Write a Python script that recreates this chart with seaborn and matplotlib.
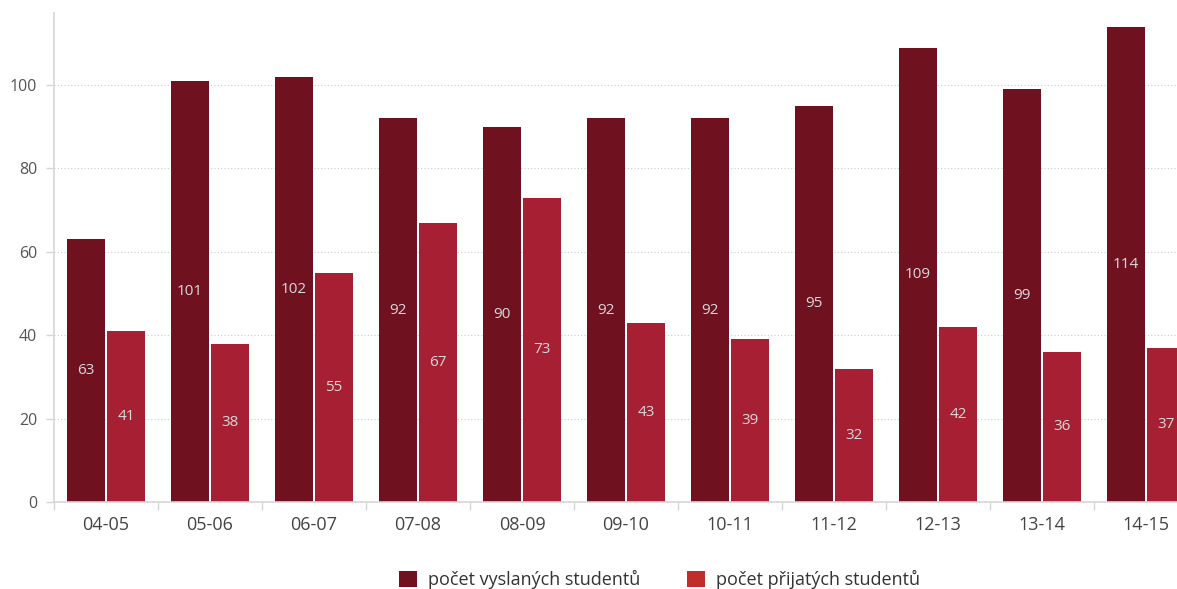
import matplotlib
matplotlib.use("Agg")
import matplotlib.pyplot as plt
import seaborn as sns
import pandas as pd
from matplotlib.patches import Patch

years = ["04-05", "05-06", "06-07", "07-08", "08-09", "09-10", "10-11", "11-12", "12-13", "13-14", "14-15"]
sent = [63, 101, 102, 92, 90, 92, 92, 95, 109, 99, 114]
received = [41, 38, 55, 67, 73, 43, 39, 32, 42, 36, 37]
series_names = ["počet vyslaných studentů", "počet přijatých studentů"]

df = pd.DataFrame({
    "year": years * 2,
    "value": sent + received,
    "series": [series_names[0]] * len(years) + [series_names[1]] * len(years),
})

sns.set_theme(style="white")
plt.rcParams["font.family"] = ["Open Sans", "DejaVu Sans"]

bar_colors = ["#701120", "#A61F33"]
legend_colors = ["#701120", "#C12D2B"]

fig = plt.figure(figsize=(11.77, 5.89), dpi=100)
ax = fig.add_axes([54 / 1177, 87 / 589, 1144 / 1177, 489 / 589])

sns.barplot(data=df, x="year", y="value", hue="series", order=years,
            hue_order=series_names, palette=bar_colors, width=0.77, gap=0.05,
            saturation=1, ax=ax, legend=False, edgecolor="none", linewidth=0)

for cont in ax.containers:
    ax.bar_label(cont, label_type="center", color="#d9d9d9", fontsize=11)

ax.set_xlim(-0.5, 10.5)
ax.set_ylim(0, 117.3)
ax.set_yticks([0, 20, 40, 60, 80, 100])
ax.yaxis.grid(True, linestyle=(0, (1, 2)), color="#cccccc", linewidth=0.8)
ax.set_axisbelow(True)
ax.set_xlabel("")
ax.set_ylabel("")

for s in ["top", "right"]:
    ax.spines[s].set_visible(False)
for s in ["left", "bottom"]:
    ax.spines[s].set_color("#d6d6d6")
    ax.spines[s].set_linewidth(1.2)

ax.tick_params(axis="y", labelsize=11.5, colors="#d6d6d6", labelcolor="#555555",
               length=6, width=1, direction="out", pad=6, left=True)
ax.tick_params(axis="x", labelsize=13, labelcolor="#444444", length=0, pad=10)
# minor ticks at category boundaries
ax.set_xticks([i + 0.5 for i in range(-1, len(years))], minor=True)
ax.tick_params(axis="x", which="minor", length=6, color="#d6d6d6", width=1, bottom=True)

handles = [Patch(facecolor=c, edgecolor="none") for c in legend_colors]
fig.legend(handles, series_names, loc="center", bbox_to_anchor=(0.56, 0.016),
           ncol=2, frameon=False, fontsize=13, handlelength=1.0, handleheight=1.0,
           columnspacing=2.6, handletextpad=0.6, labelcolor="#333333")

fig.savefig("out.png", dpi=100)
